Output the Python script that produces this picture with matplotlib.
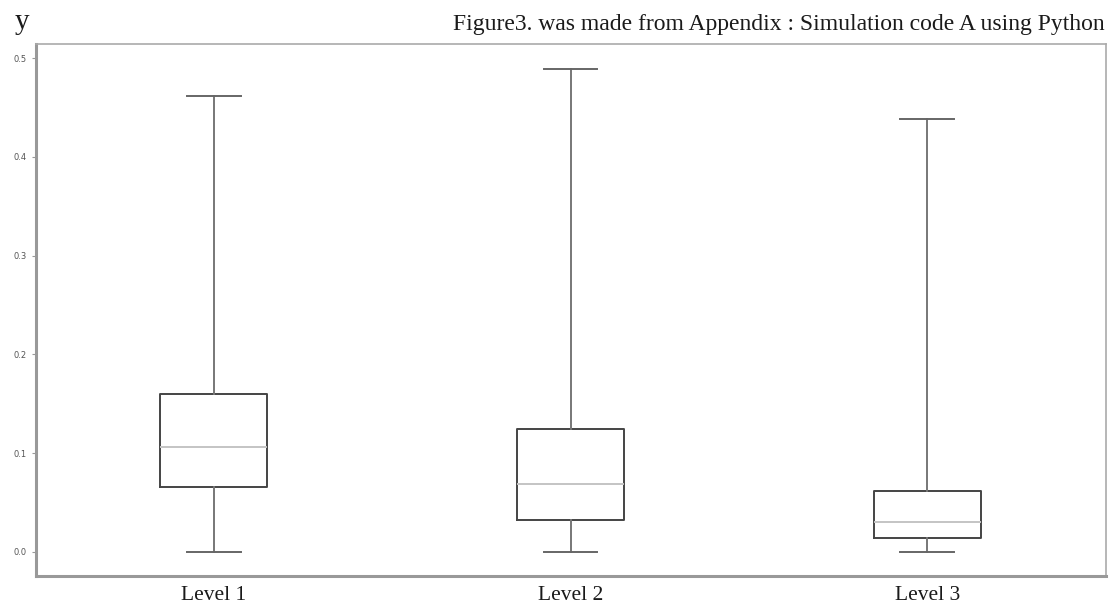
import numpy as np
import matplotlib.pyplot as plt

# Summary statistics (per level)
levels = ['Level 1', 'Level 2', 'Level 3']
whisker_low = [0.0, 0.0, 0.0]
q1 = [0.066, 0.032, 0.014]
median = [0.106, 0.069, 0.030]
q3 = [0.160, 0.124, 0.062]
whisker_high = [0.462, 0.489, 0.438]

stats = []
for i, name in enumerate(levels):
    stats.append({
        'label': name,
        'whislo': whisker_low[i],
        'q1': q1[i],
        'med': median[i],
        'q3': q3[i],
        'whishi': whisker_high[i],
        'fliers': [],
    })

fig = plt.figure(figsize=(11.1, 6.07), dpi=100)
ax = fig.add_axes([0.032, 0.051, 0.964, 0.877])

ax.bxp(stats, widths=0.3, showfliers=False,
       boxprops=dict(color='#444444', linewidth=1.4),
       whiskerprops=dict(color='#777777', linewidth=1.4),
       capprops=dict(color='#666666', linewidth=1.4),
       medianprops=dict(color='#c4c4c4', linewidth=1.4))

ax.set_xlim(0.5, 3.5)
ax.set_ylim(-0.0245, 0.5145)
ax.set_yticks([0.0, 0.1, 0.2, 0.3, 0.4, 0.5])
ax.set_yticklabels(['0.0', '0.1', '0.2', '0.3', '0.4', '0.5'])
ax.tick_params(axis='y', labelsize=6, colors='#999999', labelcolor='#555555', length=3)
ax.tick_params(axis='x', length=0, pad=7)
for lab in ax.get_xticklabels():
    lab.set_fontfamily('Liberation Serif')
    lab.set_fontsize(15.5)
    lab.set_color('#1a1a1a')

for side in ['top', 'right']:
    ax.spines[side].set_color('#aaaaaa')
    ax.spines[side].set_linewidth(1.2)
for side in ['left', 'bottom']:
    ax.spines[side].set_color('#999999')
    ax.spines[side].set_linewidth(2.2)

fig.text(0.013, 0.952, 'y', fontsize=21, family='Liberation Serif', color='#1a1a1a')
fig.text(0.995, 0.95, 'Figure3. was made from Appendix : Simulation code A using Python',
         fontsize=17, family='Liberation Serif', color='#1a1a1a', ha='right')

fig.savefig('out.png', dpi=100)
